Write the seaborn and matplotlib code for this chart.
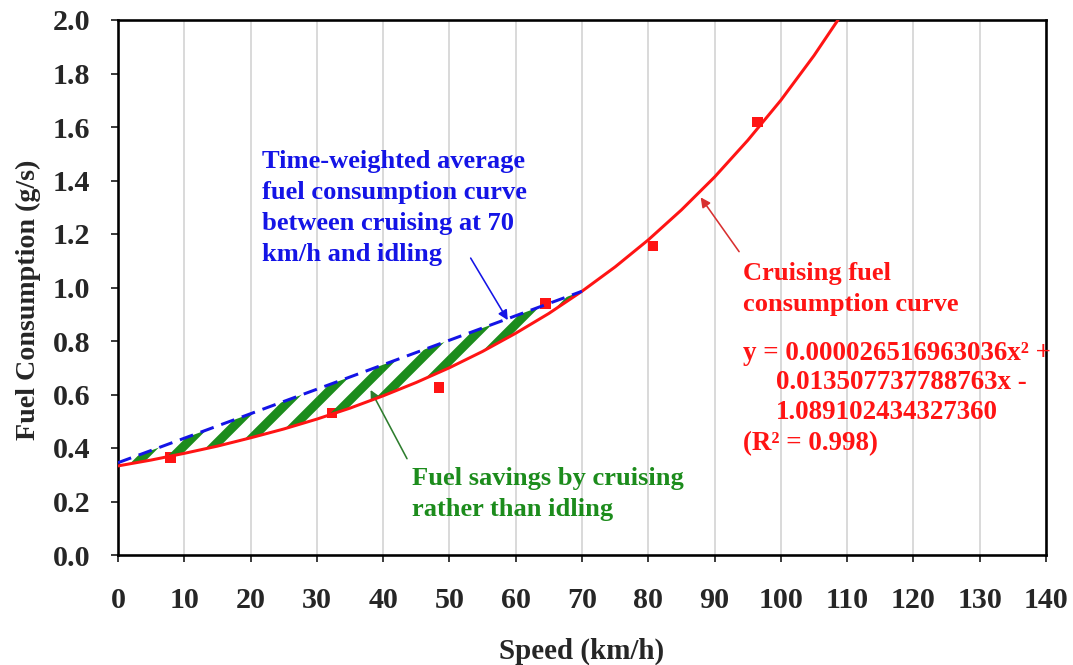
import numpy as np
import pandas as pd
import matplotlib
matplotlib.use("Agg")
import matplotlib.pyplot as plt
import seaborn as sns

# Cruising fuel consumption curve (g/s) by speed (km/h)
curve_speed = [0, 5, 10, 15, 20, 25, 30, 35, 40, 45, 50, 55, 60, 65, 70,
               75, 80, 85, 90, 95, 100, 105, 110]
curve_fuel = [0.333, 0.355, 0.380, 0.407, 0.438, 0.471, 0.508, 0.549, 0.595,
              0.645, 0.700, 0.761, 0.829, 0.903, 0.986, 1.077, 1.178, 1.290,
              1.413, 1.550, 1.700, 1.867, 2.051]

# Time-weighted average between cruising at 70 km/h and idling
avg_speed = [0, 70]
avg_fuel = [0.345, 0.986]

# Measured cruising points
meas_speed = [7.9, 32.3, 48.4, 64.5, 80.7, 96.5]
meas_fuel = [0.365, 0.530, 0.627, 0.941, 1.155, 1.619]

x_ticks = list(range(0, 141, 10))
y_ticks = [0.0, 0.2, 0.4, 0.6, 0.8, 1.0, 1.2, 1.4, 1.6, 1.8, 2.0]

DPI = 270
W, H = 1073, 665


def px(v):
    """Convert a length in pixels to points at the output resolution."""
    return v * 72.0 / DPI


RED = "#ff1414"
BLUE = "#1414e6"
GREEN = "#1c8c1c"
SERIF = ["Liberation Serif", "DejaVu Serif"]

sns.set_theme(style="white")
plt.rcParams["font.family"] = SERIF
plt.rcParams["font.weight"] = "bold"
plt.rcParams["hatch.linewidth"] = px(9)
plt.rcParams["hatch.color"] = GREEN

fig = plt.figure(figsize=(W / DPI, H / DPI), dpi=DPI)
ax = fig.add_axes([118 / W, 1 - 555 / H, (1046 - 118) / W, (555 - 20) / H])

curve_df = pd.DataFrame({"speed": curve_speed, "fuel": curve_fuel})
avg_df = pd.DataFrame({"speed": avg_speed, "fuel": avg_fuel})
meas_df = pd.DataFrame({"speed": meas_speed, "fuel": meas_fuel})

# Hatched area between the two curves (0 to 70 km/h)
lens = curve_df[curve_df["speed"] <= 70]
avg_on_curve = np.interp(lens["speed"], avg_speed, avg_fuel)
ax.fill_between(lens["speed"], lens["fuel"], avg_on_curve,
                facecolor="none", edgecolor=GREEN, hatch="///", linewidth=0,
                zorder=3)

sns.scatterplot(data=meas_df, x="speed", y="fuel", marker="s", s=px(10.5) ** 2,
                color=RED, edgecolor="none", linewidth=0, ax=ax, zorder=2)
sns.lineplot(data=curve_df, x="speed", y="fuel", color=RED, lw=px(3),
             ax=ax, zorder=4, sort=False)
sns.lineplot(data=avg_df, x="speed", y="fuel", color=BLUE, lw=px(3),
             ax=ax, zorder=5, sort=False, dashes=False)
ax.lines[-1].set_dashes([14 / 3, 8 / 3])

ax.set_xlim(0, 140)
ax.set_ylim(0, 2.0)
ax.set_xticks(x_ticks)
ax.set_yticks(y_ticks)
ax.set_xticklabels([str(t) for t in x_ticks])
ax.set_yticklabels([f"{t:.1f}" for t in y_ticks])

tick_fs = px(30)
ax.tick_params(axis="both", which="major", direction="out", length=px(7),
               width=px(1.5), color="black", labelsize=tick_fs,
               bottom=True, left=True)
ax.tick_params(axis="x", pad=px(25))
ax.tick_params(axis="y", pad=px(21))
for lab in ax.get_xticklabels() + ax.get_yticklabels():
    lab.set_fontweight("bold")

ax.xaxis.grid(True, color="#d2d2d2", lw=px(1.6))
ax.yaxis.grid(False)
ax.set_axisbelow(True)
for sp in ax.spines.values():
    sp.set_color("black")
    sp.set_linewidth(px(2.6))
    sp.set_visible(True)

ax.set_xlabel("Speed (km/h)", fontsize=px(29), fontweight="bold")
ax.set_ylabel("Fuel Consumption (g/s)", fontsize=px(28), fontweight="bold")
ax.xaxis.set_label_coords(0.5, -(651 - 555) / 535, transform=ax.transAxes)
ax.xaxis.label.set_va("center")
ax.yaxis.set_label_coords(-(118 - 28) / 928, (555 - 300) / 535, transform=ax.transAxes)
ax.yaxis.label.set_va("center")

ann_fs = px(26.5)
ax.text(21.7, 1.515, "Time-weighted average\nfuel consumption curve\n"
        "between cruising at 70\nkm/h and idling",
        color=BLUE, fontsize=ann_fs, fontweight="bold", ha="left", va="top",
        linespacing=1.45)
ax.annotate("", xy=(58.8, 0.878), xytext=(53.2, 1.11),
            arrowprops=dict(arrowstyle="-|>", color=BLUE, lw=px(1.6),
                            mutation_scale=px(20), shrinkA=0, shrinkB=0))

ax.text(44.3, 0.33, "Fuel savings by cruising\nrather than idling",
        color=GREEN, fontsize=ann_fs, fontweight="bold", ha="left", va="top",
        linespacing=1.45)
ax.annotate("", xy=(38.1, 0.617), xytext=(43.6, 0.36),
            arrowprops=dict(arrowstyle="-|>", color="#2e7d2e", lw=px(1.6),
                            mutation_scale=px(20), shrinkA=0, shrinkB=0))

ax.text(94.3, 1.095, "Cruising fuel\nconsumption curve",
        color=RED, fontsize=ann_fs, fontweight="bold", ha="left", va="top",
        linespacing=1.45)
ax.annotate("", xy=(87.9, 1.337), xytext=(93.7, 1.134),
            arrowprops=dict(arrowstyle="-|>", color="#d83030", lw=px(1.6),
                            mutation_scale=px(20), shrinkA=0, shrinkB=0))

eq_fs = px(27)
eq_lines = [(94.3, 0.80, "y = 0.000026516963036x² +"),
            (99.2, 0.69, "0.013507737788763x -"),
            (99.2, 0.58, "1.089102434327360"),
            (94.3, 0.465, "(R² = 0.998)")]
for ex, ey, etxt in eq_lines:
    ax.text(ex, ey, etxt, color=RED, fontsize=eq_fs, fontweight="bold",
            ha="left", va="top", clip_on=False)

fig.savefig("out.png", dpi=DPI, facecolor="white")
